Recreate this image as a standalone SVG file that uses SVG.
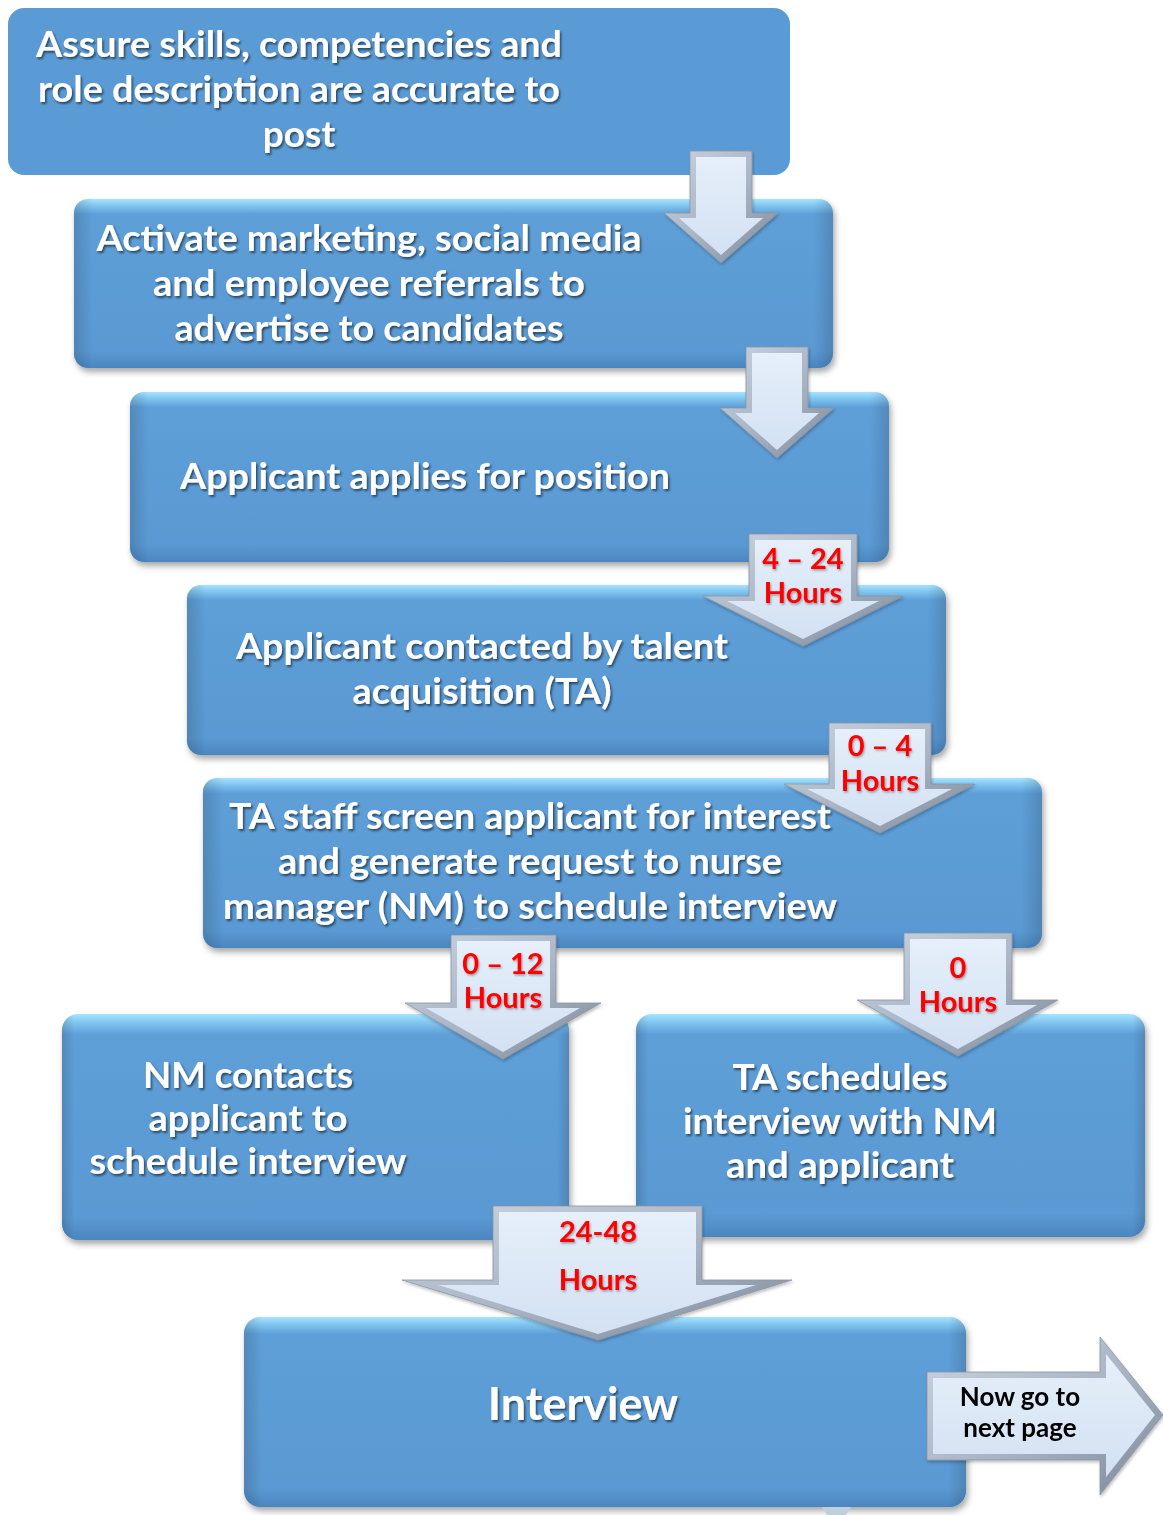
<svg xmlns="http://www.w3.org/2000/svg" width="1163" height="1515" viewBox="0 0 1163 1515">
<defs>
  <linearGradient id="boxV" x1="0" y1="0" x2="0" y2="1">
    <stop offset="0" stop-color="#a6e4ff"/>
    <stop offset="0.035" stop-color="#84c8f2"/>
    <stop offset="0.09" stop-color="#5e9fd8"/>
    <stop offset="0.9" stop-color="#5a99d3"/>
    <stop offset="1" stop-color="#4b86c0"/>
  </linearGradient>
  <linearGradient id="boxH" x1="0" y1="0" x2="1" y2="0">
    <stop offset="0" stop-color="#000" stop-opacity="0.14"/>
    <stop offset="0.025" stop-color="#000" stop-opacity="0"/>
    <stop offset="0.975" stop-color="#000" stop-opacity="0"/>
    <stop offset="1" stop-color="#000" stop-opacity="0.14"/>
  </linearGradient>
  <linearGradient id="arrEdge" x1="0" y1="0" x2="1" y2="1">
    <stop offset="0" stop-color="#c9d4e2"/>
    <stop offset="0.5" stop-color="#aab6c5"/>
    <stop offset="1" stop-color="#7d8998"/>
  </linearGradient>
  <linearGradient id="arrFace" x1="0" y1="0" x2="0" y2="1">
    <stop offset="0" stop-color="#e6effa"/>
    <stop offset="1" stop-color="#d3e1f3"/>
  </linearGradient>
  <filter id="boxShadow" x="-5%" y="-5%" width="110%" height="115%">
    <feDropShadow dx="2" dy="4" stdDeviation="3" flood-color="#000" flood-opacity="0.35"/>
  </filter>
  <filter id="txtShadow" x="-5%" y="-20%" width="110%" height="140%">
    <feDropShadow dx="1.5" dy="2" stdDeviation="1.2" flood-color="#000" flood-opacity="0.55"/>
  </filter>
  <filter id="redShadow" x="-5%" y="-20%" width="110%" height="140%">
    <feDropShadow dx="1" dy="1.5" stdDeviation="1" flood-color="#000" flood-opacity="0.35"/>
  </filter>
  <filter id="arrShadow" x="-10%" y="-10%" width="120%" height="130%">
    <feDropShadow dx="1" dy="2" stdDeviation="1.5" flood-color="#000" flood-opacity="0.25"/>
  </filter>
</defs>
<style>
  .t { font-family: Lato, "Open Sans", "Liberation Sans", sans-serif; font-weight: 700; font-size: 37px; fill: #ffffff; text-anchor: middle; filter: url(#txtShadow); }
  .big { font-size: 45px; }
  .red { font-family: Lato, "Open Sans", "Liberation Sans", sans-serif; font-weight: 700; font-size: 29px; fill: #ff0000; text-anchor: middle; filter: url(#redShadow); }
  .blk { font-family: Lato, "Open Sans", "Liberation Sans", sans-serif; font-weight: 700; font-size: 26px; fill: #000000; text-anchor: middle; }
  .bx { fill: url(#boxV); }
  .bxh { fill: url(#boxH); }
  .edge { fill: url(#arrEdge); stroke: #8a96a5; stroke-width: 0.8; }
  .face { fill: url(#arrFace); }
</style>

<g id="nodes">
  <g id="n1">
    <rect x="8" y="8" width="782" height="167" rx="16" fill="#5b9bd5"/>
    <text class="t" x="299" y="57" textLength="526" lengthAdjust="spacingAndGlyphs">Assure skills, competencies and</text>
    <text class="t" x="299" y="102" textLength="522" lengthAdjust="spacingAndGlyphs">role description are accurate to</text>
    <text class="t" x="299" y="147">post</text>
  </g>
  <g id="n2">
    <g filter="url(#boxShadow)">
      <rect class="bx" x="74" y="199" width="759" height="169" rx="14"/>
    </g>
    <rect class="bxh" x="74" y="199" width="759" height="169" rx="14"/>
    <text class="t" x="369" y="251" textLength="545" lengthAdjust="spacingAndGlyphs">Activate marketing, social media</text>
    <text class="t" x="369" y="296" textLength="432" lengthAdjust="spacingAndGlyphs">and employee referrals to</text>
    <text class="t" x="369" y="341" textLength="389" lengthAdjust="spacingAndGlyphs">advertise to candidates</text>
  </g>
  <g id="n3">
    <g filter="url(#boxShadow)">
      <rect class="bx" x="130" y="392" width="759" height="170" rx="14"/>
    </g>
    <rect class="bxh" x="130" y="392" width="759" height="170" rx="14"/>
    <text class="t" x="425" y="489" textLength="490" lengthAdjust="spacingAndGlyphs">Applicant applies for position</text>
  </g>
  <g id="n4">
    <g filter="url(#boxShadow)">
      <rect class="bx" x="187" y="585" width="759" height="170" rx="14"/>
    </g>
    <rect class="bxh" x="187" y="585" width="759" height="170" rx="14"/>
    <text class="t" x="482" y="659" textLength="492" lengthAdjust="spacingAndGlyphs">Applicant contacted by talent</text>
    <text class="t" x="482" y="704" textLength="259" lengthAdjust="spacingAndGlyphs">acquisition (TA)</text>
  </g>
  <g id="n5">
    <g filter="url(#boxShadow)">
      <rect class="bx" x="203" y="778" width="839" height="170" rx="14"/>
    </g>
    <rect class="bxh" x="203" y="778" width="839" height="170" rx="14"/>
    <text class="t" x="530" y="829" textLength="602" lengthAdjust="spacingAndGlyphs">TA staff screen applicant for interest</text>
    <text class="t" x="530" y="874" textLength="504" lengthAdjust="spacingAndGlyphs">and generate request to nurse</text>
    <text class="t" x="530" y="919" textLength="614" lengthAdjust="spacingAndGlyphs">manager (NM) to schedule interview</text>
  </g>
  <g id="n6">
    <g filter="url(#boxShadow)">
      <rect class="bx" x="62" y="1014" width="507" height="226" rx="16"/>
    </g>
    <rect class="bxh" x="62" y="1014" width="507" height="226" rx="16"/>
    <text class="t" x="248" y="1088" textLength="210" lengthAdjust="spacingAndGlyphs">NM contacts</text>
    <text class="t" x="248" y="1131" textLength="199" lengthAdjust="spacingAndGlyphs">applicant to</text>
    <text class="t" x="248" y="1174" textLength="317" lengthAdjust="spacingAndGlyphs">schedule interview</text>
  </g>
  <g id="n7">
    <g filter="url(#boxShadow)">
      <rect class="bx" x="636" y="1014" width="509" height="223" rx="16"/>
    </g>
    <rect class="bxh" x="636" y="1014" width="509" height="223" rx="16"/>
    <text class="t" x="840" y="1090" textLength="215" lengthAdjust="spacingAndGlyphs">TA schedules</text>
    <text class="t" x="840" y="1134" textLength="314" lengthAdjust="spacingAndGlyphs">interview with NM</text>
    <text class="t" x="840" y="1178" textLength="228" lengthAdjust="spacingAndGlyphs">and applicant</text>
  </g>
  <g id="n8">
    <g filter="url(#boxShadow)">
      <rect class="bx" x="244" y="1317" width="722" height="190" rx="16"/>
    </g>
    <rect class="bxh" x="244" y="1317" width="722" height="190" rx="16"/>
    <text class="t big" x="583" y="1420">Interview</text>
  </g>
</g>

<g id="connectors">
  <polygon points="822,1507 851,1507 846,1515 827,1515" fill="#c3cedc"/>
  <g id="a1" filter="url(#arrShadow)">
    <polygon class="edge" points="690,151 752,151 752,213 778,213 721,263 664,213 690,213"/>
    <polygon class="face" points="696,157 746,157 746,218 763,218 721,255 679,218 696,218"/>
  </g>
  <g id="a2" filter="url(#arrShadow)">
    <polygon class="edge" points="746,347 808,347 808,408 834,408 777,458 720,408 746,408"/>
    <polygon class="face" points="752,353 802,353 802,413 819,413 777,450 735,413 752,413"/>
  </g>
  <g id="a3" filter="url(#arrShadow)">
    <polygon class="edge" points="749,534 857,534 857,596 903,596 803,646 703,596 749,596"/>
    <polygon class="face" points="755,540 851,540 851,601 879,601 803,639 727,601 755,601"/>
    <text class="red" x="803" y="569">4 – 24</text>
    <text class="red" x="803" y="603">Hours</text>
  </g>
  <g id="a4" filter="url(#arrShadow)">
    <polygon class="edge" points="829,723 931,723 931,784 975,784 880,833 784,784 829,784"/>
    <polygon class="face" points="835,729 925,729 925,789 952,789 880,826 807,789 835,789"/>
    <text class="red" x="880" y="756">0 – 4</text>
    <text class="red" x="880" y="791">Hours</text>
  </g>
  <g id="a5" filter="url(#arrShadow)">
    <polygon class="edge" points="451,935 556,935 556,1003 601,1003 503,1059 405,1003 451,1003"/>
    <polygon class="face" points="457,941 550,941 550,1008 580,1008 503,1052 426,1008 457,1008"/>
    <text class="red" x="503" y="974">0 – 12</text>
    <text class="red" x="503" y="1008">Hours</text>
  </g>
  <g id="a6" filter="url(#arrShadow)">
    <polygon class="edge" points="904,933 1012,933 1012,1000 1058,1000 958,1056 857,1000 904,1000"/>
    <polygon class="face" points="910,939 1006,939 1006,1005 1037,1005 958,1049 878,1005 910,1005"/>
    <text class="red" x="958" y="978">0</text>
    <text class="red" x="958" y="1012">Hours</text>
  </g>
  <g id="a7" filter="url(#arrShadow)">
    <polygon class="edge" points="493,1206 702,1206 702,1280 792,1280 598,1340 402,1280 493,1280"/>
    <polygon class="face" points="499,1212 696,1212 696,1285 756,1285 598,1334 438,1285 499,1285"/>
    <text class="red" x="598" y="1242">24-48</text>
    <text class="red" x="598" y="1290">Hours</text>
  </g>
  <g id="a8" filter="url(#arrShadow)">
    <polygon class="edge" points="927,1372 1100,1372 1100,1337 1163,1415 1100,1495 1100,1460 927,1460"/>
    <polygon class="face" points="933,1378 1106,1378 1106,1354 1155,1415 1106,1477 1106,1454 933,1454"/>
    <text class="blk" x="1020" y="1406">Now go to</text>
    <text class="blk" x="1020" y="1437">next page</text>
  </g>
</g>
</svg>
